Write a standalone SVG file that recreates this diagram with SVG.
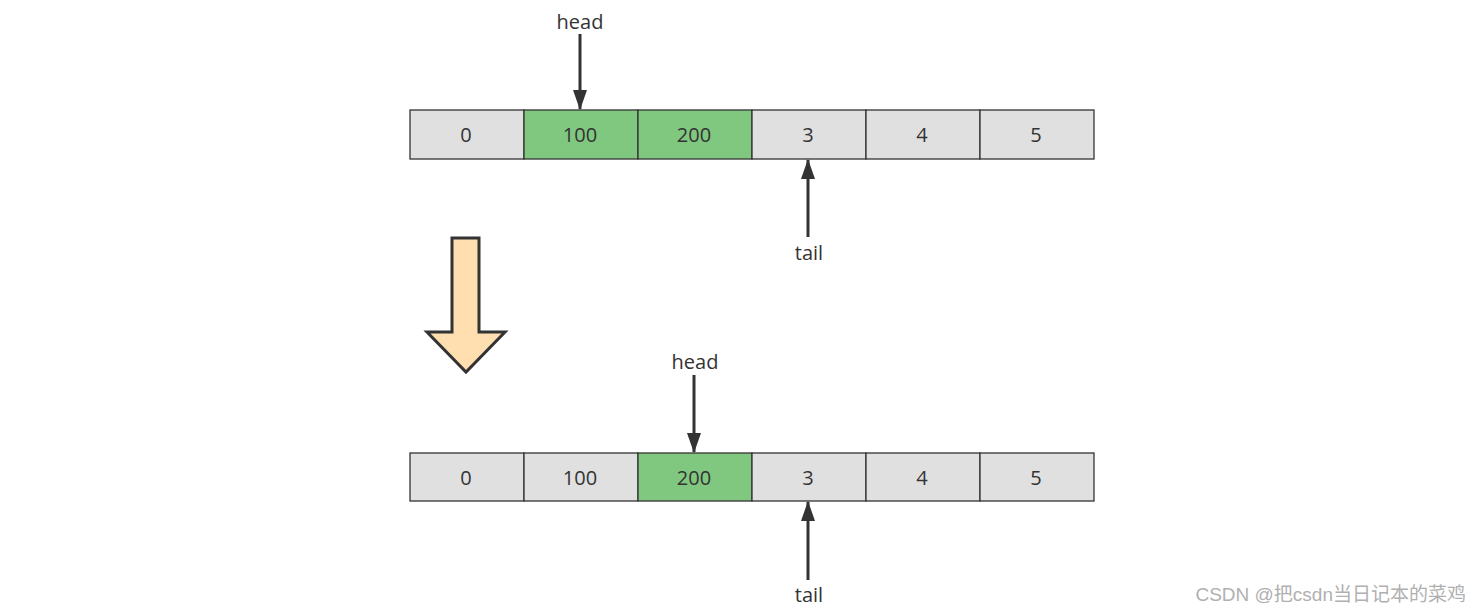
<svg xmlns="http://www.w3.org/2000/svg" width="1482" height="613" viewBox="0 0 1482 613">
<style>
.cell{stroke:#333;stroke-width:1.3}
.g{fill:#e0e0e0}
.k{fill:#80c880}
.t{font-family:"Open Sans","Noto Sans","Liberation Sans",sans-serif;font-size:20px;fill:#333;text-anchor:middle;dominant-baseline:central}
.c{stroke:#333;stroke-width:3;fill:none}
</style>
<defs>
<marker id="ah" viewBox="0 0 20 14" refX="19" refY="7" markerUnits="userSpaceOnUse" markerWidth="20" markerHeight="14" orient="auto">
<path d="M0,0 L20,7 L0,14 Z" fill="#333"/>
</marker>
</defs>
<rect width="1482" height="613" fill="#fff"/>
<g id="row1">
<g id="r1c0"><rect class="cell g" x="410" y="110" width="114" height="49"/><text class="t" x="466" y="134.5">0</text></g>
<g id="r1c1"><rect class="cell k" x="524" y="110" width="114" height="49"/><text class="t" x="580" y="134.5">100</text></g>
<g id="r1c2"><rect class="cell k" x="638" y="110" width="114" height="49"/><text class="t" x="694" y="134.5">200</text></g>
<g id="r1c3"><rect class="cell g" x="752" y="110" width="114" height="49"/><text class="t" x="808" y="134.5">3</text></g>
<g id="r1c4"><rect class="cell g" x="866" y="110" width="114" height="49"/><text class="t" x="922" y="134.5">4</text></g>
<g id="r1c5"><rect class="cell g" x="980" y="110" width="114" height="49"/><text class="t" x="1036" y="134.5">5</text></g>
</g>
<g id="row2">
<g id="r2c0"><rect class="cell g" x="410" y="453" width="114" height="48"/><text class="t" x="466" y="477">0</text></g>
<g id="r2c1"><rect class="cell g" x="524" y="453" width="114" height="48"/><text class="t" x="580" y="477">100</text></g>
<g id="r2c2"><rect class="cell k" x="638" y="453" width="114" height="48"/><text class="t" x="694" y="477">200</text></g>
<g id="r2c3"><rect class="cell g" x="752" y="453" width="114" height="48"/><text class="t" x="808" y="477">3</text></g>
<g id="r2c4"><rect class="cell g" x="866" y="453" width="114" height="48"/><text class="t" x="922" y="477">4</text></g>
<g id="r2c5"><rect class="cell g" x="980" y="453" width="114" height="48"/><text class="t" x="1036" y="477">5</text></g>
</g>
<g id="labels">
<text id="head1" class="t" x="580" y="21">head</text>
<text id="tail1" class="t" x="809" y="252">tail</text>
<text id="head2" class="t" x="695" y="361">head</text>
<text id="tail2" class="t" x="809" y="594">tail</text>
</g>
<g id="transition">
<path d="M452,238 L479,238 L479,332 L505,332 L466,372 L427,332 L452,332 Z" fill="#ffdfb0" stroke="#333" stroke-width="3" stroke-linejoin="miter"/>
</g>
<g id="connectors">
<line class="c" x1="580" y1="34" x2="580" y2="109" marker-end="url(#ah)"/>
<line class="c" x1="808" y1="237" x2="808" y2="160" marker-end="url(#ah)"/>
<line class="c" x1="694" y1="375" x2="694" y2="452" marker-end="url(#ah)"/>
<line class="c" x1="808" y1="580" x2="808" y2="502" marker-end="url(#ah)"/>
</g>
<text id="watermark" x="1466" y="601" text-anchor="end" font-family="'Liberation Sans','Noto Sans CJK SC',sans-serif" font-size="19" fill="#b0b0b0">CSDN @把csdn当日记本的菜鸡</text>
</svg>
